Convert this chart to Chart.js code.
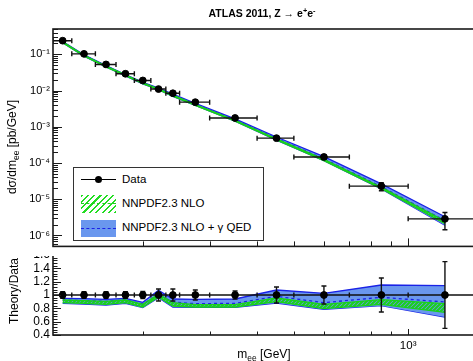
<!DOCTYPE html>
<html><head><meta charset="utf-8">
<script src="https://cdn.jsdelivr.net/npm/chart.js@4.4.0/dist/chart.umd.min.js"></script>
<style>
html,body{margin:0;padding:0;background:#fff;}
body{width:473px;height:361px;overflow:hidden;position:relative;font-family:"Liberation Sans",Arial,sans-serif;color:#000;}
canvas{position:absolute;left:0;top:0;}
#ct{background:#fff;}
.ov{position:absolute;white-space:nowrap;line-height:1;}
.sup{font-size:70%;position:relative;top:-0.5em;}
.sub{font-size:70%;position:relative;top:0.3em;}
#legend{position:absolute;left:73px;top:167px;width:191px;height:74px;border:1.5px solid #333;background:#fff;box-sizing:border-box;font-size:11.5px;}
#legend .t{position:absolute;left:48px;line-height:1;transform:translateY(-50%);white-space:nowrap;}
</style></head><body>
<canvas id="cr" width="480" height="361"></canvas>
<canvas id="ct" width="480" height="256"></canvas>
<div class="ov" style="left:162px;width:200px;top:8px;text-align:center;font-weight:bold;font-size:10.5px;">ATLAS 2011, Z → e<span class="sup">+</span>e<span class="sup">-</span></div>
<div class="ov" style="left:12px;top:147px;font-size:12px;transform:translate(-50%,-50%) rotate(-90deg);">dσ/dm<span class="sub">ee</span> [pb/GeV]</div>
<div class="ov" style="left:14px;top:291px;font-size:12px;transform:translate(-50%,-50%) rotate(-90deg);">Theory/Data</div>
<div class="ov" style="left:264px;top:354px;font-size:12px;transform:translate(-50%,-50%);">m<span class="sub">ee</span> [GeV]</div>
<div id="legend">
  <div style="position:absolute;left:7px;top:11px;width:35px;height:1.4px;background:#000;"></div>
  <div style="position:absolute;left:21px;top:8.3px;width:7px;height:7px;border-radius:50%;background:#000;"></div>
  <div class="t" style="top:12px;">Data</div>
  <div style="position:absolute;left:7px;top:27px;width:35px;height:18px;background:repeating-linear-gradient(-45deg,#22dd22 0 1.6px,transparent 1.6px 4.5px);"></div>
  <div style="position:absolute;left:7px;top:35.3px;width:35px;height:0;border-top:1.5px dashed #22cc22;"></div>
  <div class="t" style="top:36px;">NNPDF2.3 NLO</div>
  <div style="position:absolute;left:7px;top:52px;width:35px;height:17px;background:#6a97ee;"></div>
  <div style="position:absolute;left:7px;top:60px;width:35px;height:0;border-top:1.5px dashed #1a22e6;"></div>
  <div class="t" style="top:59.5px;">NNPDF2.3 NLO + γ QED</div>
</div>
<script>
// ---- data ----
const massBinCenters = [123, 140, 160, 180, 200, 220, 240, 275, 350, 450, 600, 850, 1250];
const massBinLow     = [116, 130, 150, 170, 190, 210, 230, 250, 300, 400, 500, 700, 1000];
const massBinHigh    = [130, 150, 170, 190, 210, 230, 250, 300, 400, 500, 700, 1000, 1500];
const dataXsec   = [0.238, 0.103, 0.0526, 0.0291, 0.0190, 0.0110, 0.00843, 0.00478, 0.00175, 4.86e-4, 1.47e-4, 2.30e-5, 2.88e-6];
const dataRelErr = [0.05, 0.05, 0.05, 0.05, 0.055, 0.09, 0.09, 0.075, 0.06, 0.12, 0.135, 0.255, 0.5];
const ratioData       = [1, 1, 1, 1, 1, 1, 1, 1, 1, 1, 1, 1, 1];
const ratioQedHigh    = [0.950, 0.945, 0.935, 0.950, 0.890, 1.070, 0.940, 0.935, 0.940, 1.075, 1.025, 1.150, 1.140];
const ratioQedCentral = [0.925, 0.915, 0.905, 0.925, 0.865, 1.000, 0.895, 0.870, 0.875, 0.980, 0.885, 0.965, 0.895];
const ratioQedLow     = [0.875, 0.865, 0.850, 0.875, 0.810, 0.960, 0.820, 0.815, 0.815, 0.880, 0.785, 0.840, 0.670];
const ratioNloHigh    = [0.925, 0.915, 0.905, 0.925, 0.860, 1.010, 0.885, 0.855, 0.855, 0.955, 0.860, 0.930, 0.870];
const ratioNloLow     = [0.885, 0.875, 0.860, 0.885, 0.820, 0.970, 0.835, 0.820, 0.820, 0.900, 0.795, 0.860, 0.740];
const yTopTickValues  = [1e-6, 1e-5, 1e-4, 1e-3, 1e-2, 1e-1];
const ratioTickValues = [0.4, 0.6, 0.8, 1.0, 1.2, 1.4, 1.6];
const xTickValues     = [1000];

// ---- styling ----
Chart.defaults.font.family = '"Liberation Sans", Arial, sans-serif';
Chart.defaults.color = '#000';
const GREEN = '#19d219', BLUE_LINE = '#1a22e6', BLUE_FILL = '#6a97ee', FRAME = '#1a1a1a';
const SUPS = {'-':'⁻','0':'⁰','1':'¹','2':'²','3':'³','4':'⁴','5':'⁵','6':'⁶','7':'⁷','8':'⁸','9':'⁹'};
const powLabel = v => '10' + String(Math.round(Math.log10(v))).split('').map(c => SUPS[c]).join('');

function hatch(ctxTarget){
  const c = document.createElement('canvas'); c.width = 4; c.height = 4;
  const g = c.getContext('2d');
  g.strokeStyle = GREEN; g.lineWidth = 2.0;
  g.beginPath();
  g.moveTo(-1, 5); g.lineTo(5, -1);
  g.moveTo(-1, 1); g.lineTo(1, -1);
  g.moveTo(3, 5); g.lineTo(5, 3);
  g.stroke();
  return ctxTarget.createPattern(c, 'repeat');
}

const xy = ys => massBinCenters.map((m, i) => ({x: m, y: ys[i]}));
const times = (a, b) => a.map((v, i) => v * b[i]);

// dataset indices: 0 data, 1 NLO high, 2 NLO low, 3 QED central, 4 QED high, 5 QED low
function bandDatasets(base, pattern, isRatio){
  const f = arr => isRatio ? arr : times(base, arr);
  return [
    {label:'NNPDF2.3 NLO high', data: xy(f(ratioNloHigh)), borderColor: GREEN, borderWidth: 1.4, pointRadius: 0, fill: 2, backgroundColor: pattern, order: 1},
    {label:'NNPDF2.3 NLO low',  data: xy(f(ratioNloLow)),  borderColor: GREEN, borderWidth: 1.4, pointRadius: 0, fill: false, order: 2},
    {label:'NNPDF2.3 NLO + γ QED central', data: xy(f(ratioQedCentral)), borderColor: BLUE_LINE, borderWidth: 1.3, borderDash: [3, 3], pointRadius: 0, fill: false, order: 3},
    {label:'NNPDF2.3 NLO + γ QED high', data: xy(f(ratioQedHigh)), borderColor: BLUE_LINE, borderWidth: 1.3, pointRadius: 0, fill: 5, backgroundColor: BLUE_FILL, order: 4},
    {label:'NNPDF2.3 NLO + γ QED low',  data: xy(f(ratioQedLow)),  borderColor: BLUE_LINE, borderWidth: 1.3, pointRadius: 0, fill: false, order: 5}
  ];
}

function errorBarPlugin(yVals, yLow, yHigh){
  return {
    id: 'errorBars',
    beforeDatasetDraw(chart, args){
      if (args.index !== 0) return;
      const {ctx, chartArea: a, scales: {x, y}} = chart;
      ctx.save();
      ctx.beginPath(); ctx.rect(a.left, a.top - 5, a.right - a.left, a.bottom - a.top + 10); ctx.clip();
      ctx.strokeStyle = '#111'; ctx.lineWidth = 1.4;
      ctx.beginPath();
      massBinCenters.forEach((m, i) => {
        const px = x.getPixelForValue(m), py = y.getPixelForValue(yVals[i]);
        const xl = x.getPixelForValue(massBinLow[i]), xh = x.getPixelForValue(massBinHigh[i]);
        const yl = y.getPixelForValue(yLow[i]), yh = y.getPixelForValue(yHigh[i]);
        ctx.moveTo(xl, py); ctx.lineTo(xh, py);
        ctx.moveTo(xl, py - 2.5); ctx.lineTo(xl, py + 2.5);
        ctx.moveTo(xh, py - 2.5); ctx.lineTo(xh, py + 2.5);
        ctx.moveTo(px, yl); ctx.lineTo(px, yh);
        ctx.moveTo(px - 2.5, yl); ctx.lineTo(px + 2.5, yl);
        ctx.moveTo(px - 2.5, yh); ctx.lineTo(px + 2.5, yh);
      });
      ctx.stroke();
      ctx.restore();
    }
  };
}

function framePlugin(isRatio){
  return {
    id: 'frameTicks',
    afterDraw(chart){
      const {ctx, chartArea: a, scales: {x, y}} = chart;
      ctx.save();
      ctx.strokeStyle = FRAME; ctx.lineWidth = 1;
      ctx.beginPath();
      if (!isRatio){
        for (let d = -7; d <= 0; d++){
          for (let k = 1; k <= 9; k++){
            const v = k * Math.pow(10, d);
            if (v < y.min || v > y.max) continue;
            const py = Math.round(y.getPixelForValue(v)) + 0.5;
            ctx.moveTo(a.left, py); ctx.lineTo(a.left + (k === 1 ? 9 : 5), py);
          }
        }
      } else {
        for (let j = 0; j <= 30; j++){
          const v = 0.4 + j * 0.04;
          const py = Math.round(y.getPixelForValue(v)) + 0.5;
          ctx.moveTo(a.left, py); ctx.lineTo(a.left + (j % 5 === 0 ? 8 : 4.5), py);
        }
      }
      for (let k = 2; k <= 10; k++){
        const v = k * 100;
        const px = Math.round(x.getPixelForValue(v)) + 0.5;
        const len = isRatio ? (k === 10 ? 6 : 3.5) : (k === 10 ? 8 : 5);
        ctx.moveTo(px, a.bottom); ctx.lineTo(px, a.bottom - len);
      }
      ctx.stroke();
      ctx.lineWidth = 1.6;
      ctx.strokeRect(a.left, a.top, a.right - a.left, a.bottom - a.top);
      ctx.restore();
    }
  };
}

const ctTop = document.getElementById('ct').getContext('2d');
const ctRat = document.getElementById('cr').getContext('2d');

// ---- top panel ----
new Chart(ctTop, {
  type: 'line',
  data: { datasets: [
    {label:'Data', data: xy(dataXsec), showLine: false, pointRadius: 3.4, pointBackgroundColor: '#000', pointBorderColor: '#000', pointBorderWidth: 1, order: 0},
    ...bandDatasets(dataXsec, hatch(ctTop), false)
  ]},
  options: {
    responsive: false, animation: false, devicePixelRatio: 1, events: [],
    layout: { padding: { left: 0, top: 29, right: 4, bottom: 1 } },
    plugins: { legend: {display: false}, tooltip: {enabled: false} },
    elements: { line: { tension: 0 } },
    scales: {
      x: { type: 'logarithmic', min: 116, max: 1500, display: false },
      y: { type: 'logarithmic', min: 5e-7, max: 0.5, position: 'left',
           afterBuildTicks: s => { s.ticks = yTopTickValues.map(v => ({value: v})); },
           afterFit: s => { s.width = 53; },
           grid: { display: false, drawTicks: false }, border: { display: false },
           ticks: { callback: v => powLabel(v), font: { size: 11 }, padding: 3, autoSkip: false, maxRotation: 0 } }
    }
  },
  plugins: [errorBarPlugin(dataXsec,
                           dataXsec.map((v, i) => v * (1 - dataRelErr[i])),
                           dataXsec.map((v, i) => v * (1 + dataRelErr[i]))), framePlugin(false)]
});

// ---- ratio panel ----
new Chart(ctRat, {
  type: 'line',
  data: { datasets: [
    {label:'Data', data: xy(ratioData), showLine: false, pointRadius: 3.4, pointBackgroundColor: '#000', pointBorderColor: '#000', pointBorderWidth: 1, order: 0},
    ...bandDatasets(null, hatch(ctRat), true)
  ]},
  options: {
    responsive: false, animation: false, devicePixelRatio: 1, events: [],
    layout: { padding: { left: 0, top: 255, right: 4, bottom: 0 } },
    plugins: { legend: {display: false}, tooltip: {enabled: false} },
    elements: { line: { tension: 0 } },
    scales: {
      x: { type: 'logarithmic', min: 116, max: 1500, position: 'bottom',
           afterBuildTicks: s => { s.ticks = xTickValues.map(v => ({value: v})); },
           afterFit: s => { s.height = 26; },
           grid: { display: false, drawTicks: false }, border: { display: false },
           ticks: { callback: v => powLabel(v), font: { size: 11.5 }, padding: 4, autoSkip: false, maxRotation: 0 } },
      y: { type: 'linear', min: 0.4, max: 1.6, position: 'left',
           afterBuildTicks: s => { s.ticks = ratioTickValues.map(v => ({value: v})); },
           afterFit: s => { s.width = 53; },
           grid: { display: false, drawTicks: false }, border: { display: false },
           ticks: { callback: v => String(Math.round(v * 10) / 10), font: { size: 12 }, padding: 3, autoSkip: false, maxRotation: 0 } }
    }
  },
  plugins: [errorBarPlugin(ratioData,
                           ratioData.map((v, i) => v - dataRelErr[i]),
                           ratioData.map((v, i) => v + dataRelErr[i])), framePlugin(true)]
});
</script>
</body></html>
